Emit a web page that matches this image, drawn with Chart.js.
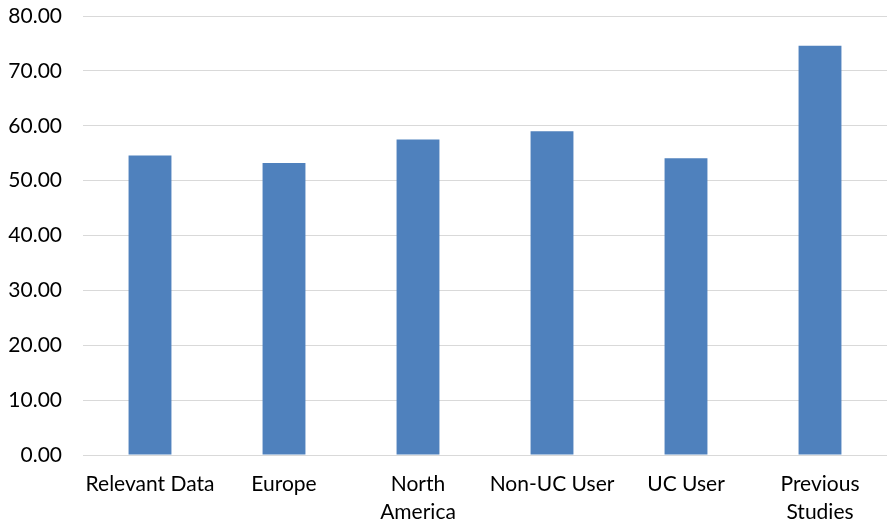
<!DOCTYPE html>
<html>
<head>
<meta charset="utf-8">
<script src="https://cdn.jsdelivr.net/npm/chart.js@4/dist/chart.umd.min.js"></script>
<style>
  html, body { margin: 0; padding: 0; background: #ffffff; }
  #wrap { width: 887px; height: 525px; }
</style>
</head>
<body>
<div id="wrap"><canvas id="c" width="887" height="525"></canvas></div>
<script>
// Category labels (multi-line where the text wraps)
const categories = [
  'Relevant Data',
  'Europe',
  ['North', 'America'],
  'Non-UC User',
  'UC User',
  ['Previous', 'Studies']
];
// Bar values
const values = [54.6, 53.2, 57.5, 59.0, 54.1, 74.6];
// Y axis range and step
const yMin = 0;
const yMax = 80;
const yStep = 10;

const fontFamily = 'Lato, "Open Sans", sans-serif';
const gridColor = '#d9d9d9';

new Chart(document.getElementById('c'), {
  type: 'bar',
  data: {
    labels: categories,
    datasets: [{
      data: values,
      backgroundColor: '#4f81bd',
      borderWidth: 0,
      categoryPercentage: 1,
      barPercentage: 0.32
    }]
  },
  options: {
    responsive: false,
    animation: false,
    layout: { padding: { top: 0, right: 0, left: 0, bottom: 0 } },
    plugins: { legend: { display: false }, tooltip: { enabled: false } },
    scales: {
      x: {
        grid: { display: false, drawTicks: false },
        border: { color: gridColor, width: 1 },
        ticks: {
          color: '#000000',
          font: { family: fontFamily, size: 21, lineHeight: 1.35 },
          padding: 15,
          maxRotation: 0,
          autoSkip: false
        },
        afterFit: (s) => { s.height = 70; s.paddingTop = 0; s.paddingBottom = 0; }
      },
      y: {
        min: yMin,
        max: yMax,
        grid: { color: gridColor, lineWidth: 1, drawTicks: false },
        border: { display: false },
        ticks: {
          stepSize: yStep,
          color: '#000000',
          font: { family: fontFamily, size: 21 },
          padding: 21,
          callback: (v) => v.toFixed(2)
        },
        afterFit: (s) => { s.width = 83; s.paddingTop = 16; s.paddingBottom = 0; }
      }
    }
  }
});
</script>
</body>
</html>
